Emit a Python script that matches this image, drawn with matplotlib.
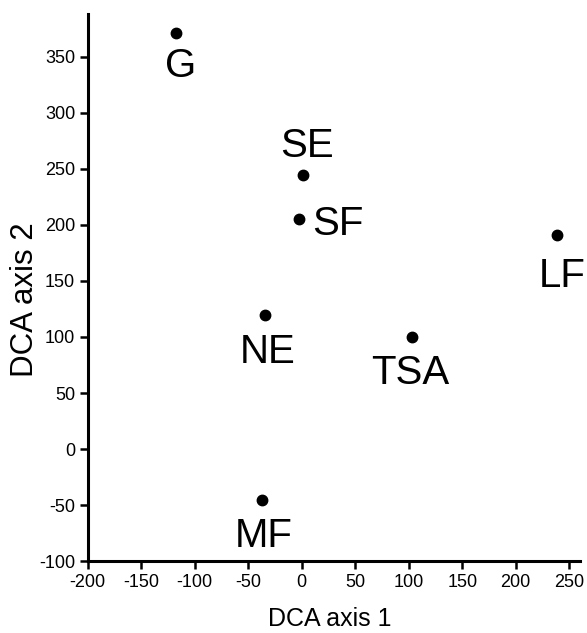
import matplotlib.pyplot as plt

plt.rcParams['font.family'] = ['Liberation Sans', 'DejaVu Sans']
plt.rcParams['axes.unicode_minus'] = False

# DCA site scores
sites = ['G', 'SE', 'SF', 'LF', 'TSA', 'NE', 'MF']
axis1 = [-117.5, 1.5, -2.5, 239, 103, -34, -37]
axis2 = [371, 244, 205, 191, 100, 120, -45.5]

# label placement (pixels from the dot, alignment)
label_pos = {
    'G': (5, -44, 'center'),
    'SE': (4, 18, 'center'),
    'SF': (13, -16, 'left'),
    'LF': (5, -52, 'center'),
    'TSA': (-2, -47, 'center'),
    'NE': (2, -48, 'center'),
    'MF': (2, -47, 'center'),
}

fig = plt.figure(figsize=(5.87, 6.33), dpi=100)
ax = fig.add_axes([0.1494, 0.1133, 0.8386, 0.8646])

ax.plot(axis1, axis2, 'o', color='black', markersize=7.5)

for name, x, y in zip(sites, axis1, axis2):
    dx, dy, ha = label_pos[name]
    ax.annotate(name, (x, y), xytext=(dx, dy), textcoords='offset pixels',
                ha=ha, va='baseline', fontsize=29)

ax.set_xlim(-200, 260)
ax.set_ylim(-100, 388)
ax.set_xticks(range(-200, 251, 50))
ax.set_yticks(range(-100, 351, 50))

for side in ['top', 'right']:
    ax.spines[side].set_visible(False)
for side in ['left', 'bottom']:
    ax.spines[side].set_linewidth(2.2)
ax.tick_params(direction='out', length=6, width=1.8, labelsize=13, pad=3)

ax.set_xlabel('DCA axis 1', fontsize=18)
ax.set_ylabel('DCA axis 2', fontsize=22.5)
ax.xaxis.set_label_coords(0.491, -0.0835)
ax.yaxis.set_label_coords(-0.097, 0.4774)

fig.savefig('out.png', dpi=100)
